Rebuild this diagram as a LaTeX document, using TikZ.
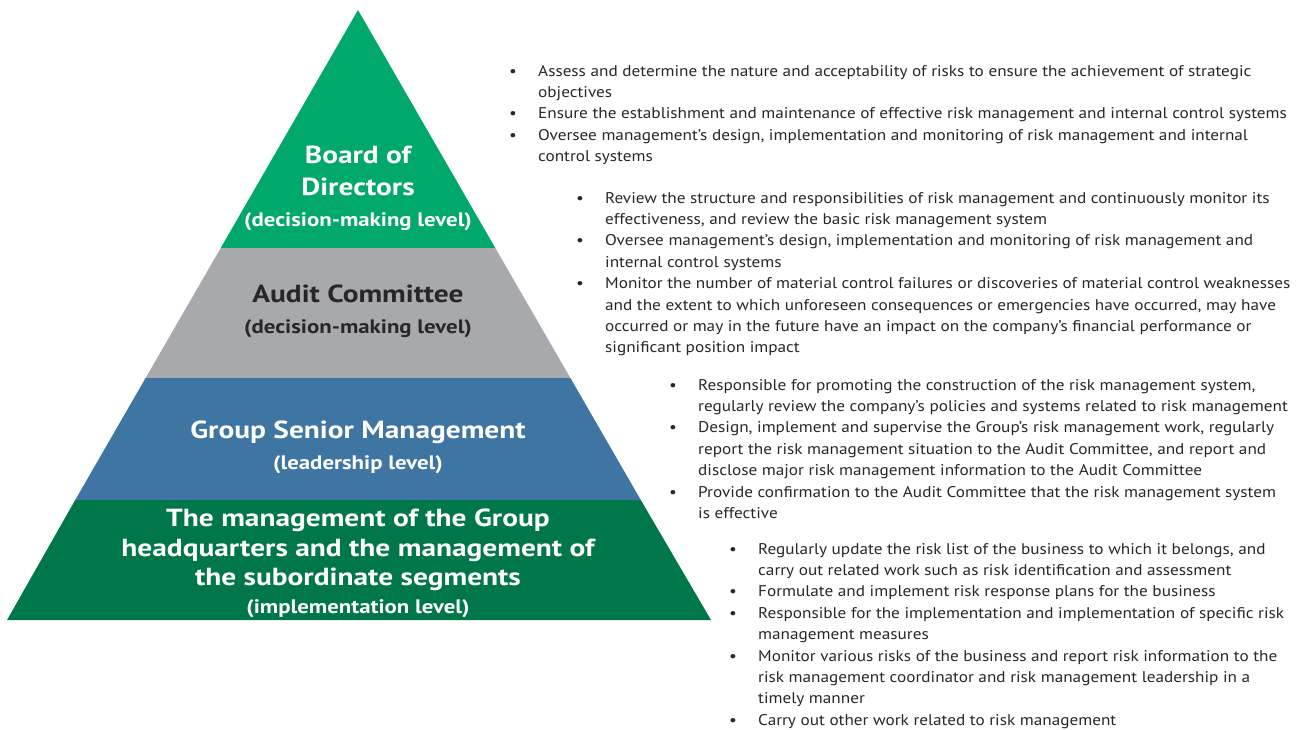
\documentclass[tikz,border=0pt]{standalone}
\usepackage{fontspec}
\setmainfont{PT Sans}
\newfontfamily\bodyfont{PT Sans}[FakeStretch=1.11]
\newfontfamily\titlefont{PT Sans}[FakeStretch=1.19]
\newfontfamily\subfont{PT Sans}[FakeStretch=1.17]
\definecolor{topgreen}{RGB}{0,168,107}
\definecolor{midgray}{RGB}{167,169,172}
\definecolor{midblue}{RGB}{62,117,163}
\definecolor{darkgreen}{RGB}{0,119,74}
\definecolor{textgray}{RGB}{40,38,40}
\newcommand{\bitem}[1]{\textbullet & #1\\}
\newcommand{\bcont}[1]{& #1\\}
\newenvironment{blist}{\begin{tabular}[t]{@{}p{29pt}@{}l@{}}}{\end{tabular}}
\begin{document}
\begin{tikzpicture}[x=1pt,y=-1pt,
  bodytext/.style={anchor=base west, inner sep=0pt, text=textgray, font=\bodyfont\fontsize{15.5}{21.4}\selectfont},
  ttl/.style={anchor=base, inner sep=0pt, font=\titlefont\bfseries\fontsize{24.7}{31}\selectfont, text=white},
  sub/.style={anchor=base, inner sep=0pt, font=\subfont\bfseries\fontsize{19.5}{24}\selectfont, text=white},
  dark/.style={text=textgray}]
\path[use as bounding box] (0,0) rectangle (1305,729);
% pyramid bands
\fill[topgreen] (358,10) -- (495.3,248) -- (220.7,248) -- cycle;
\fill[midgray] (220.7,248) -- (495.3,248) -- (570.4,378) -- (145.6,378) -- cycle;
\fill[midblue] (145.6,378) -- (570.4,378) -- (640.8,500) -- (75.2,500) -- cycle;
\fill[darkgreen] (75.2,500) -- (640.8,500) -- (711,620) -- (7,620) -- cycle;
% pyramid labels
\node[ttl] (bod1) at (358,163) {Board of};
\node[ttl] (bod2) at (358,195) {Directors};
\node[sub] (bod3) at (358,226) {(decision-making level)};
\node[ttl,dark] (ac1) at (358,302) {Audit Committee};
\node[sub,dark] (ac2) at (358,333) {(decision-making level)};
\node[ttl] (gsm1) at (358,438) {Group Senior Management};
\node[sub] (gsm2) at (358,469) {(leadership level)};
\node[ttl] (mg1) at (358,526) {The management of the Group};
\node[ttl] (mg2) at (358,556) {headquarters and the management of};
\node[ttl] (mg3) at (358,585) {the subordinate segments};
\node[sub] (mg4) at (358,613) {(implementation level)};
% bullet lists
\node[bodytext] (list1) at (509,76) {\begin{blist}
\bitem{Assess and determine the nature and acceptability of risks to ensure the achievement of strategic}
\bcont{objectives}
\bitem{Ensure the establishment and maintenance of effective risk management and internal control systems}
\bitem{Oversee management’s design, implementation and monitoring of risk management and internal}
\bcont{control systems}
\end{blist}};
\node[bodytext] (list2) at (576,203) {\begin{blist}
\bitem{Review the structure and responsibilities of risk management and continuously monitor its}
\bcont{effectiveness, and review the basic risk management system}
\bitem{Oversee management’s design, implementation and monitoring of risk management and}
\bcont{internal control systems}
\bitem{Monitor the number of material control failures or discoveries of material control weaknesses}
\bcont{and the extent to which unforeseen consequences or emergencies have occurred, may have}
\bcont{occurred or may in the future have an impact on the company’s financial performance or}
\bcont{significant position impact}
\end{blist}};
\node[bodytext] (list3) at (669,390) {\begin{blist}
\bitem{Responsible for promoting the construction of the risk management system,}
\bcont{regularly review the company’s policies and systems related to risk management}
\bitem{Design, implement and supervise the Group’s risk management work, regularly}
\bcont{report the risk management situation to the Audit Committee, and report and}
\bcont{disclose major risk management information to the Audit Committee}
\bitem{Provide confirmation to the Audit Committee that the risk management system}
\bcont{is effective}
\end{blist}};
\node[bodytext] (list4) at (729,554) {\begin{blist}
\bitem{Regularly update the risk list of the business to which it belongs, and}
\bcont{carry out related work such as risk identification and assessment}
\bitem{Formulate and implement risk response plans for the business}
\bitem{Responsible for the implementation and implementation of specific risk}
\bcont{management measures}
\bitem{Monitor various risks of the business and report risk information to the}
\bcont{risk management coordinator and risk management leadership in a}
\bcont{timely manner}
\bitem{Carry out other work related to risk management}
\end{blist}};
\end{tikzpicture}
\end{document}
